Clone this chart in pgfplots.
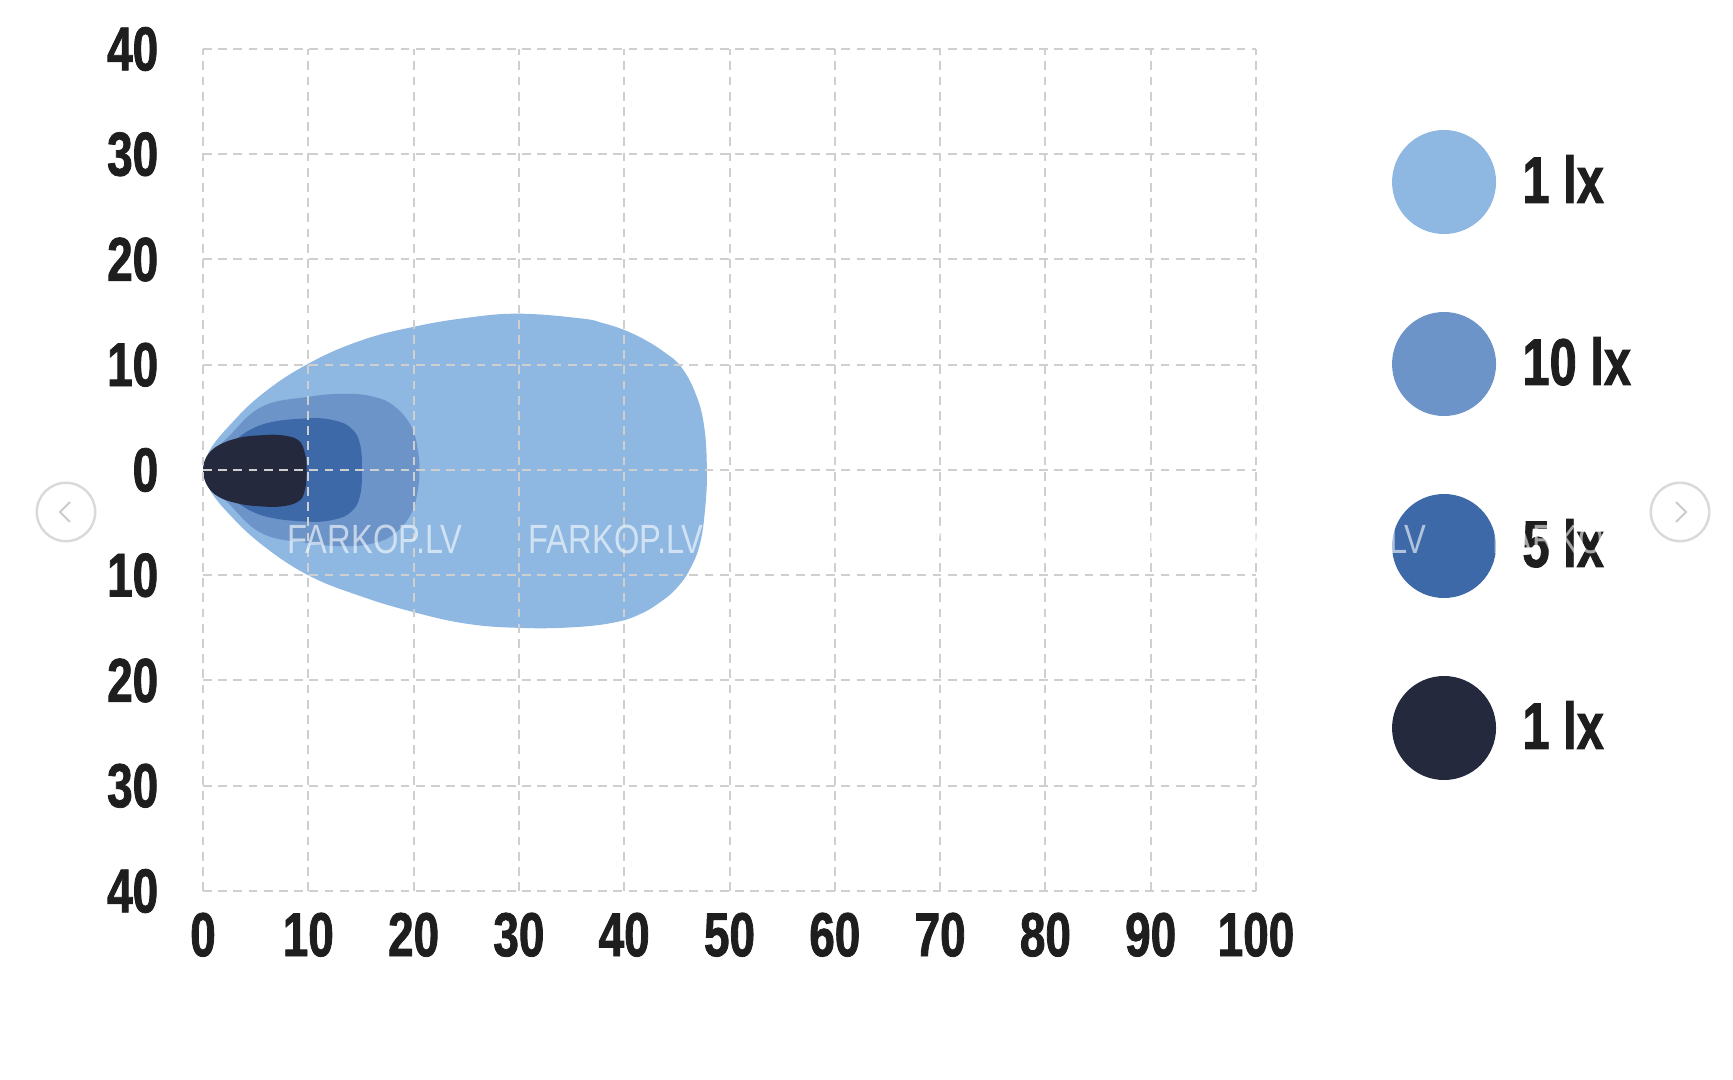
\documentclass[border=0pt]{standalone}
\usepackage{pgfplots}
\pgfplotsset{compat=1.18}
\usepackage{fontspec}
\setmainfont{Liberation Sans}
\newfontfamily\tickfont{Liberation Sans}[FakeStretch=0.74, BoldFeatures={FakeBold=1.3}]
\newfontfamily\wmfont[FakeStretch=0.8]{Liberation Sans}
\definecolor{lightc}{HTML}{8EB8E2}
\definecolor{medc}{HTML}{6C94C8}
\definecolor{bluec}{HTML}{3D69A9}
\definecolor{darkc}{HTML}{25293E}
\definecolor{gridc}{HTML}{CFCFCF}
\definecolor{tickc}{HTML}{1E1E1E}
\begin{document}
\begin{tikzpicture}
\useasboundingbox (0,0) rectangle (433.25pt,270pt);
\fill[white] (0,0) rectangle (433.25pt,270pt);
\begin{axis}[
  at={(50.75pt,47.25pt)}, anchor=south west,
  scale only axis, width=263.25pt, height=210.5pt,
  xmin=0, xmax=100, ymin=-40, ymax=40,
  xtick={0,10,...,100}, ytick={-40,-30,...,40},
  xticklabels={0,10,20,30,40,50,60,70,80,90,100},
  yticklabels={40,30,20,10,0,10,20,30,40},
  grid=major,
  major grid style={draw=gridc, dash pattern=on 2.2pt off 1.6pt, line width=0.5pt},
  axis line style={draw=none},
  major tick length=0pt,
  axis on top,
  xticklabel style={font=\fontsize{15.5}{16}\tickfont\bfseries, text=tickc, anchor=north, inner sep=0pt, yshift=-5.25pt},
  yticklabel style={font=\fontsize{15.5}{16}\tickfont\bfseries, text=tickc, anchor=east, inner sep=0pt, xshift=-11pt},
  legend image code/.code={\fill[#1,draw=none] (0pt,0pt) circle[radius=13pt];},
  legend style={at={(1.1292,0.9038)}, anchor=north west, draw=none, fill=none,
    inner sep=0pt, outer sep=0pt, row sep=19.5pt, column sep=6.6pt,
    nodes={inner sep=0pt},
    font=\fontsize{16.5}{17}\tickfont\bfseries, text=tickc},
  legend cell align=left,
]
\addplot[fill=lightc, draw=none, smooth, tension=0.7] coordinates {
(0,0) (0.6,1.8) (2.4,4.1) (5.6,7.2) (10,10.1) (15,12.3) (20,13.6) (25,14.45) (30,14.85)
(35.9,14.4) (38,13.95) (40,13.3) (42,12.35) (43.8,11.2) (45.4,9.8) (46.8,7.2) (47.6,4.1) (47.85,0)
(47.7,-3.5) (47.2,-7) (46.2,-9.5) (45,-11.2) (43.5,-12.5) (41.5,-13.7) (39,-14.5) (35,-14.95)
(30,-15.0) (25,-14.6) (20,-13.5) (15,-12.0) (10,-10) (5.6,-7.1) (2.4,-4.1) (0.6,-1.8) (0,0)};
\addlegendentry{1 lx}
\addplot[fill=medc, draw=none, smooth, tension=0.7] coordinates {
(0,0) (0.5,1.2) (2.4,3.15) (5.56,6.0) (9.84,6.93) (13.5,7.24) (16.3,6.93) (18.25,6.0)
(19.8,4.1) (20.4,1.9) (20.55,0) (20.4,-1.9) (19.8,-4.1) (18.25,-6.0) (16.3,-6.93)
(13.5,-7.24) (9.84,-6.93) (5.56,-6.0) (2.4,-3.15) (0.5,-1.2) (0,0)};
\addlegendentry{10 lx}
\addplot[fill=bluec, draw=none, smooth, tension=0.7] coordinates {
(0,0) (0.5,1.0) (2.4,2.4) (5.56,4.3) (9.84,4.9) (12.5,4.7) (14.1,3.94) (14.9,2.5)
(15.1,0) (14.9,-2.5) (14.1,-3.94) (12.5,-4.7) (9.84,-4.9) (5.56,-4.3) (2.4,-2.5)
(0.5,-1.0) (0,0)};
\addlegendentry{5 lx}
\addplot[fill=darkc, draw=none, smooth, tension=0.7] coordinates {
(0,0) (0.3,1.2) (1.4,2.3) (3.4,3.05) (5.56,3.3) (7.46,3.3) (9.05,2.83) (9.68,1.57) (9.84,0)
(9.68,-1.9) (9.05,-2.99) (7.46,-3.46) (5.56,-3.46) (3.4,-3.2) (1.4,-2.5) (0.3,-1.3) (0,0)};
\addlegendentry{1 lx}
\end{axis}
% watermark
\foreach \wx in {71.75,132,192.25,252.5,312.75,373}{
  \node[anchor=west, inner sep=0pt, text=white, text opacity=0.6,
    font=\fontsize{10.2}{11}\wmfont] at (\wx pt,135.25pt) {FARKOP.LV};
}
% navigation arrows
\draw[gray!30, line width=0.6pt] (16.5pt,142pt) circle[radius=7.3pt];
\draw[gray!40, line width=0.5pt] (17.5pt,144.5pt) -- (15pt,142pt) -- (17.5pt,139.5pt);
\draw[gray!30, line width=0.6pt] (420pt,142pt) circle[radius=7.3pt];
\draw[gray!40, line width=0.5pt] (419pt,144.5pt) -- (421.5pt,142pt) -- (419pt,139.5pt);
\end{tikzpicture}
\end{document}
